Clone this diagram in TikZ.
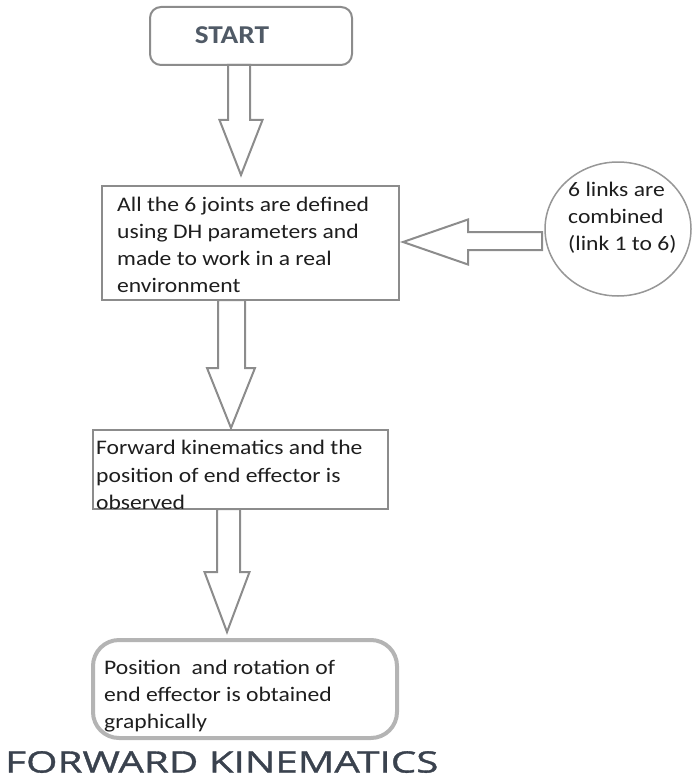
\documentclass[tikz,border=0pt]{standalone}
\usepackage{fontspec}
\setmainfont{Carlito}[FakeStretch=1.14]
\newfontfamily\titlefont{Open Sans}[FakeStretch=1.37,FakeBold=1.2]
\usetikzlibrary{shapes.geometric,calc}
\definecolor{edgegray}{HTML}{8C8C8C}
\definecolor{softgray}{HTML}{B4B4B4}
\definecolor{bodytext}{HTML}{1E1E1E}
\definecolor{starttext}{HTML}{505A66}
\definecolor{titletext}{HTML}{3A424E}
\tikzset{
  boxshape/.style={draw=edgegray, line width=2pt, fill=white, inner sep=0pt},
  bodyfont/.style={font=\fontsize{20.7pt}{27.2pt}\selectfont, text=bodytext, align=left, inner sep=0pt},
  blockarrow/.style={draw=edgegray, line width=2pt, fill=white, line join=miter},
}
\newcommand{\blockdown}[5]{%
  \draw[blockarrow] ($(#1)+(-#3,0)$) -- ($(#1|-#2)+(-#3,-#5)$) -- ($(#2)+(-#4,-#5)$) -- (#2)
    -- ($(#2)+(#4,-#5)$) -- ($(#1|-#2)+(#3,-#5)$) -- ($(#1)+(#3,0)$) -- cycle;}
\newcommand{\blockleft}[5]{%
  \draw[blockarrow] ($(#1)+(0,-#3)$) -- ($(#2|-#1)+(#5,-#3)$) -- ($(#2)+(#5,-#4)$) -- (#2)
    -- ($(#2)+(#5,#4)$) -- ($(#2|-#1)+(#5,#3)$) -- ($(#1)+(0,#3)$) -- cycle;}
\begin{document}
\begin{tikzpicture}[x=1pt,y=-1pt]
\useasboundingbox (0,0) rectangle (692,781);

% START
\node[boxshape, rounded corners=11pt, minimum width=202pt, minimum height=58pt] (start) at (251,36) {};
\node[font=\fontsize{25.7pt}{28pt}\selectfont\bfseries, text=starttext, inner sep=0pt] (starttxt) at (232,35) {START};

% Box 2
\node[boxshape, minimum width=297pt, minimum height=114pt] (joints) at (250.5,243) {};
\node[bodyfont, anchor=west] (jointstxt) at (117,245) {All the 6 joints are defined\\using DH parameters and\\made to work in a real\\environment};

% Circle
\node[ellipse, draw=edgegray!90, line width=1.5pt, fill=white, minimum width=146pt, minimum height=134pt, inner sep=0pt] (links) at (618,229) {};
\node[bodyfont, anchor=west] (linkstxt) at (568,218) {6 links are\\combined\\(link 1 to 6)};

% Box 3
\node[boxshape, minimum width=295pt, minimum height=79pt] (fk) at (240.5,469.5) {};
\node[bodyfont, anchor=west] (fktxt) at (96,475) {Forward kinematics and the\\position of end effector is\\observed};

% Box 4
\node[draw=softgray, line width=4pt, rounded corners=26pt, fill=white, minimum width=304pt, minimum height=98pt, inner sep=0pt] (result) at (245,689) {};
\node[bodyfont, anchor=west] (resulttxt) at (104,696) {Position\ \ and rotation of\\end effector is obtained\\graphically};

% Title
\node[font=\titlefont\fontsize{29.5pt}{32pt}\selectfont, text=titletext, anchor=west, inner sep=0pt] (title) at (5,762) {FORWARD KINEMATICS};

% Arrows
\coordinate (a1top) at (239,65);
\coordinate (a1tip) at (241,175);
\coordinate (a2top) at (231.5,300);
\coordinate (a2tip) at (231,428);
\coordinate (a3top) at (228.5,509);
\coordinate (a3tip) at (227,632);
\coordinate (a4start) at (542,241);
\coordinate (a4tip) at (403,242);
\blockdown{a1top}{a1tip}{11}{21.5}{55}
\blockdown{a2top}{a2tip}{13.5}{24}{60}
\blockdown{a3top}{a3tip}{11.5}{22.5}{60}
\blockleft{a4start}{a4tip}{9}{22.5}{65}
\end{tikzpicture}
\end{document}
